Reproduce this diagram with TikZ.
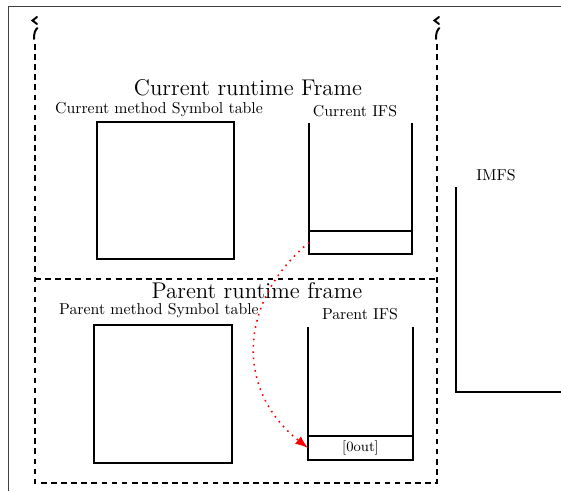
\documentclass[tikz,border=0pt]{standalone}
\usetikzlibrary{arrows.meta}
\begin{document}
\begin{tikzpicture}[x=0.633pt,y=-0.633pt,
  frameline/.style={draw=black!75,line width=0.6pt},
  dashframe/.style={line width=1.3pt,dash pattern=on 3.6pt off 2.8pt},
  brk/.style={line width=1.25pt,line cap=round},
  wall/.style={line width=1pt},
  tablebox/.style={draw,line width=1pt,inner sep=0pt,outer sep=0pt,minimum width=#1,minimum height=#1},
  cellbox/.style={draw,line width=1pt,inner sep=0pt,outer sep=0pt},
  lbl/.style={inner sep=0pt,anchor=base,font=\normalsize},
  big/.style={inner sep=0pt,anchor=base,font=\Large},
  link/.style={red,line width=1pt,dash pattern=on 1pt off 3pt,
    -{Latex[length=8pt,width=6pt]}}]
\useasboundingbox (0,0) rectangle (561,491);

% outer page frame
\draw[frameline] (8,491) -- (8,6) -- (561,6);

% dashed runtime-frame outline with break marks at the top
\draw[dashframe] (35,44) -- (35,483) -- (437,483) -- (437,44);
\draw[dashframe] (35,279) -- (437,279);
\foreach \xx in {35,437} {
  \draw[brk] (\xx+2,17) -- (\xx-2.5,20.5) -- (\xx+2,24);
  \draw[brk] (\xx-1,39) .. controls (\xx-1,33) and (\xx,30) .. (\xx+2.5,28);
}

% titles
\node[big] (curtitle) at (248,95) {Current runtime Frame};
\node[big] (partitle) at (257,298) {Parent runtime frame};

% current frame
\node[lbl] (cstlbl) at (159,113.5) {Current method Symbol table};
\node[tablebox=86.7pt] (cst) at (165.5,190.5) {};
\node[lbl] (cifslbl) at (355,116) {Current IFS};
\node[cellbox,minimum width=65.2pt,minimum height=14.6pt] (curcell) at (360.5,242.5) {};
\draw[wall] (curcell.north west) -- ++(0,-108);
\draw[wall] (curcell.north east) -- ++(0,-108);

% parent frame
\node[lbl] (pstlbl) at (159,314.5) {Parent method Symbol table};
\node[tablebox=87.4pt] (pst) at (163,394) {};
\node[lbl] (pifslbl) at (360,319) {Parent IFS};
\node[cellbox,minimum width=66.5pt,minimum height=15.2pt,font=\small] (outcell) at (360.5,448) {[0out]};
\draw[wall] (outcell.north west) -- ++(0,-109);
\draw[wall] (outcell.north east) -- ++(0,-109);

% IMFS
\node[lbl] (imfslbl) at (496,180) {IMFS};
\draw[wall] (456,187) -- (456,392) -- (561,392);

% link from current IFS slot to the parent's out slot
\draw[link] (curcell.west) .. controls +(-72,60) and +(-72,-57) .. (outcell.west);
\end{tikzpicture}
\end{document}
